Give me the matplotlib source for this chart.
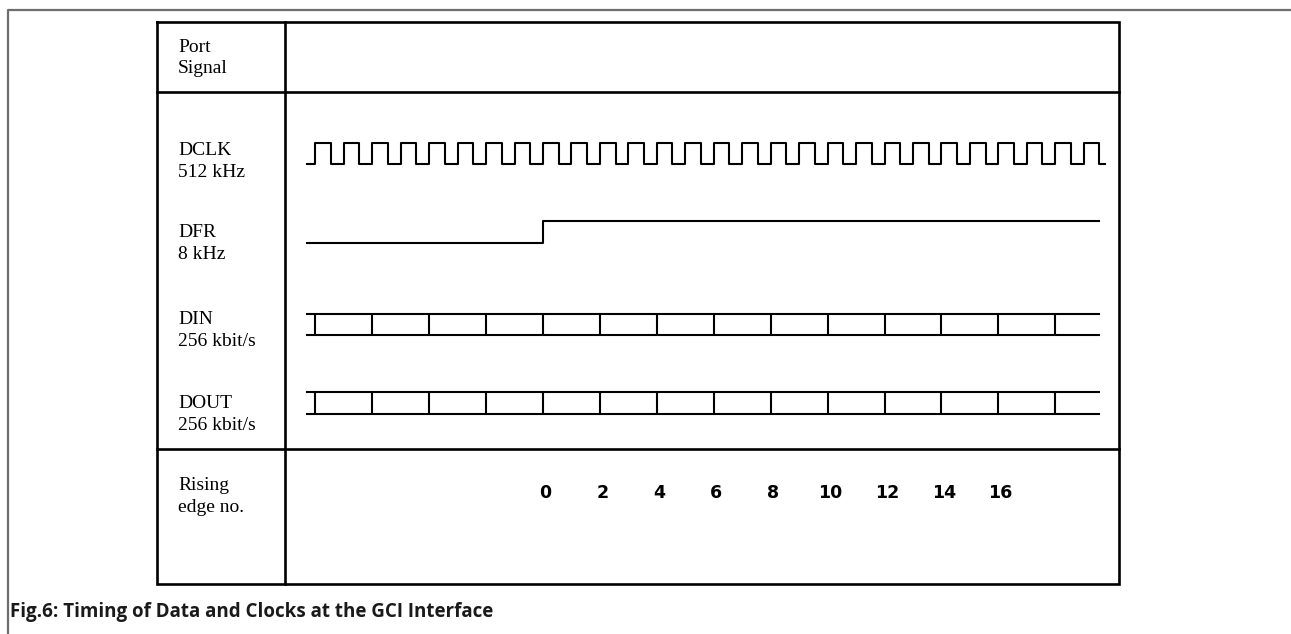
import matplotlib
matplotlib.use('Agg')
import matplotlib.pyplot as plt

# data
signals = ['DCLK', 'DFR', 'DIN', 'DOUT']
rates = ['512 kHz', '8 kHz', '256 kbit/s', '256 kbit/s']
clk_rising = [-8, -7, -6, -5, -4, -3, -2, -1, 0, 1, 2, 3, 4, 5, 6, 7,
              8, 9, 10, 11, 12, 13, 14, 15, 16, 17, 18, 19]
dfr_edge = 0
bit_bounds = [-8, -6, -4, -2, 0, 2, 4, 6, 8, 10, 12, 14, 16, 18]
edge_labels = [0, 2, 4, 6, 8, 10, 12, 14, 16]
t_start, t_clk_end, t_end = -8.3, 19.75, 19.55
caption = 'Fig.6: Timing of Data and Clocks at the GCI Interface'

# layout (pixels)
W, H = 1291, 634
tbl_l, tbl_div, tbl_r = 157, 285, 1119
tbl_t, hdr_b, sig_b, tbl_b = 22, 92, 449, 584
lane_high = [143, 221, 314, 392]
lane_low = [164, 243, 335, 414]
label_top = [143, 225, 312, 396]
t0_px, period_px = 543, 28.46

fig = plt.figure(figsize=(W / 100, H / 100), dpi=100)
ax = fig.add_axes([0, 0, 1, 1])
ax.set_xlim(0, W)
ax.set_ylim(H, 0)
ax.axis('off')

# outer frame
ax.plot([8, 8, W], [H, 10, 10], color='#6e6e6e', lw=1.6, solid_capstyle='butt')

# table
lw_t = 1.9
ax.plot([tbl_l, tbl_r, tbl_r, tbl_l, tbl_l], [tbl_t, tbl_t, tbl_b, tbl_b, tbl_t],
        color='black', lw=lw_t, solid_joinstyle='miter')
ax.plot([tbl_div, tbl_div], [tbl_t, tbl_b], color='black', lw=lw_t)
ax.plot([tbl_l, tbl_r], [hdr_b, hdr_b], color='black', lw=lw_t)
ax.plot([tbl_l, tbl_r], [sig_b, sig_b], color='black', lw=lw_t)

serif = dict(family='Liberation Serif', fontsize=14, va='baseline', ha='left')
lx = 178
ax.text(lx, 52, 'Port', **serif)
ax.text(lx, 73, 'Signal', **serif)
for name, rate, top in zip(signals, rates, label_top):
    ax.text(lx, top + 12, name, **serif)
    ax.text(lx, top + 34, rate, **serif)
ax.text(lx, 490, 'Rising', **serif)
ax.text(lx, 512, 'edge no.', **serif)

# waveform axes: x in clock periods, y in pixels
x0 = (tbl_div - t0_px) / period_px
x1 = (tbl_r - t0_px) / period_px
wa = fig.add_axes([tbl_div / W, 1 - tbl_b / H, (tbl_r - tbl_div) / W, (tbl_b - hdr_b) / H])
wa.set_xlim(x0, x1)
wa.set_ylim(tbl_b, hdr_b)
wa.axis('off')
wa.patch.set_alpha(0)

lw_w = 1.5
# DCLK
hi, lo = lane_high[0], lane_low[0]
xs, ys = [t_start], [lo]
for r in clk_rising:
    xs += [r, r, r + 0.55, r + 0.55]
    ys += [lo, hi, hi, lo]
xs.append(t_clk_end)
ys.append(lo)
wa.plot(xs, ys, color='black', lw=lw_w)

# DFR
hi, lo = lane_high[1], lane_low[1]
wa.plot([t_start, dfr_edge, dfr_edge, t_end], [lo, lo, hi, hi], color='black', lw=lw_w)

# DIN / DOUT
for i in (2, 3):
    hi, lo = lane_high[i], lane_low[i]
    wa.plot([t_start, t_end], [hi, hi], color='black', lw=lw_w)
    wa.plot([t_start, t_end], [lo, lo], color='black', lw=lw_w)
    wa.vlines(bit_bounds, hi, lo, color='black', lw=lw_w)

# rising edge numbers
for n in edge_labels:
    wa.text(n + 0.08, 493, str(n), ha='center', va='center', fontsize=12.5,
            family='DejaVu Sans', fontweight='bold')

# caption
ax.text(10, 612, caption, ha='left', va='center', fontsize=13.5,
        family='Open Sans', fontweight='bold', color='#1a1a1a')

fig.savefig('out.png', dpi=100)
